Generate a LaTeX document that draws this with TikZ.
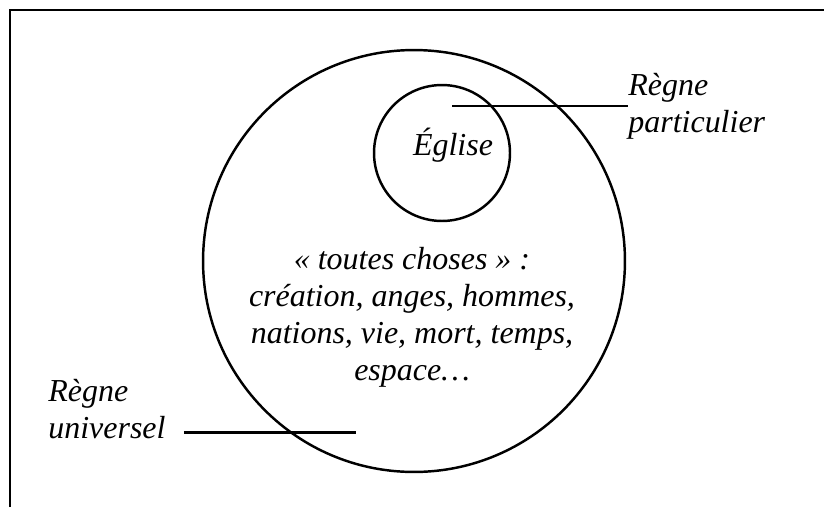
\documentclass[tikz,border=0pt]{standalone}
\usepackage{fontspec}
\setmainfont{Liberation Serif}
\usetikzlibrary{positioning}
\tikzset{
  lbl/.style={font=\itshape\fontsize{18.2}{21}\selectfont,inner sep=0pt,align=center},
  ring/.style={draw,circle,line width=1.4pt,inner sep=0pt},
  lien/.style={line width=1.7pt}
}
\begin{document}
\begin{tikzpicture}[x=0.02cm,y=-0.02cm]
\useasboundingbox (0,0) rectangle (824,507);
% cadre
\draw[line width=1.6pt] (10,507) -- (10,10) -- (824,10);
% les deux regnes
\node[ring,minimum size=8.44cm] (univers) at (414,261) {};
\node[ring,minimum size=2.72cm] (eglise) at (442,153) {};
\node[lbl,anchor=base] (egl) at (453,155) {Église};
\node[lbl,anchor=base] (choses) at (412,380) {« toutes choses » :\\création, anges, hommes,\\nations, vie, mort, temps,\\espace…};
% etiquettes
\node[lbl,anchor=base west,align=left] (partic) at (628,132) {Règne\\particulier};
\node[lbl,anchor=base west,align=left] (univ) at (48,438) {Règne\\universel};
\coordinate (pdebut) at (452,106);
\coordinate (ufin) at (356,432);
\draw[lien] (pdebut) -- (pdebut -| partic.west);
\draw[lien] (univ.east |- ufin) ++(18,0) -- (ufin);
\end{tikzpicture}
\end{document}
